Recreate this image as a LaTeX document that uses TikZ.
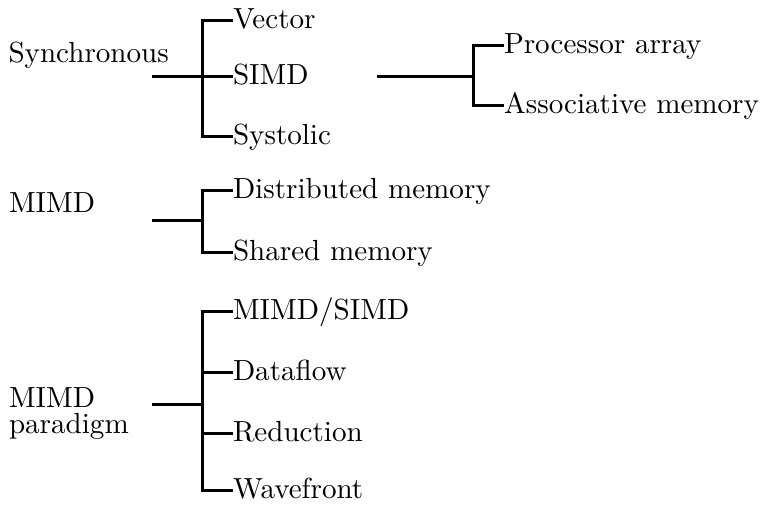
\documentclass[tikz,border=0pt]{standalone}
\usetikzlibrary{calc}
% Latin Modern Roman at its 10pt design size for every font size
\DeclareFontFamily{TU}{lmten}{}
\DeclareFontShape{TU}{lmten}{m}{n}{<-> "[lmroman10-regular]:mapping=tex-text;"}{}
\begin{document}
\begin{tikzpicture}[x=1bp,y=-1bp,
  branch/.style={line width=3bp},
  txt/.style={inner sep=0pt, outer sep=0pt, font=\fontfamily{lmten}\fontsize{29.1bp}{26bp}\selectfont},
  head/.style={txt, anchor=base west},
  leaf/.style={txt, anchor=west, text height=20bp, text depth=4bp}]
\useasboundingbox[fill=white] (0,0) rectangle (761,506);

% ---- Synchronous ----
\node[head] (sync) at (8.5,63) {Synchronous};
\coordinate (s0) at (152,77);
\coordinate (s1) at (202,77);
\node[leaf] (vec)  at (233,21)  {Vector};
\node[leaf] (simd) at (233,77)  {SIMD};
\node[leaf] (sys)  at (233,137) {Systolic};
\draw[branch] (vec.west) -| (s1 |- sys.west) -- (sys.west);
\draw[branch] (s0) -- (simd.west);

% ---- SIMD subdivision ----
\coordinate (r0) at (377,77);
\coordinate (r1) at (473,77);
\node[leaf] (proc)  at (504,46)  {Processor array};
\node[leaf] (assoc) at (504,106) {Associative memory};
\draw[branch] (r0) -- (r1);
\draw[branch] (proc.west) -| (r1 |- assoc.west) -- (assoc.west);

% ---- MIMD ----
\node[head] (mimd) at (9,213) {MIMD};
\coordinate (m0) at (152,221);
\coordinate (m1) at (202,221);
\node[leaf] (dist) at (233,191) {Distributed memory};
\node[leaf] (shm)  at (233,253) {Shared memory};
\draw[branch] (m0) -- (m1);
\draw[branch] (dist.west) -| (m1 |- shm.west) -- (shm.west);

% ---- MIMD paradigm ----
\node[head] (para)  at (9,407) {MIMD};
\node[head] (para2) at (9,433) {paradigm};
\coordinate (p0) at (152,404);
\coordinate (p1) at (202,404);
\node[leaf] (ms)  at (233,311) {MIMD/SIMD};
\node[leaf] (df)  at (233,372) {Dataflow};
\node[leaf] (red) at (233,433) {Reduction};
\node[leaf] (wf)  at (233,490) {Wavefront};
\draw[branch] (p0) -- (p1);
\draw[branch] (ms.west) -| (p1 |- wf.west) -- (wf.west);
\draw[branch] (p1 |- df.west) -- (df.west);
\draw[branch] (p1 |- red.west) -- (red.west);
\end{tikzpicture}
\end{document}
